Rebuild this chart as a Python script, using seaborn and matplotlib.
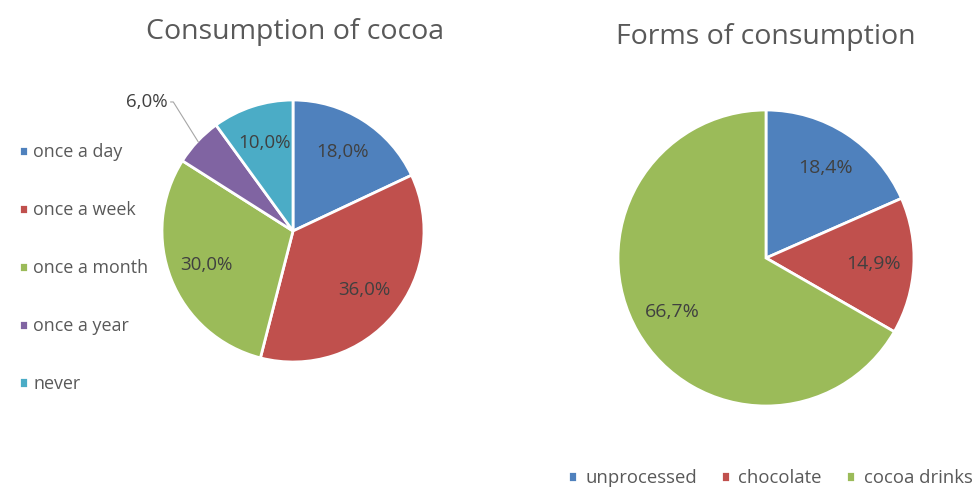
import numpy as np
import matplotlib
matplotlib.use("Agg")
import matplotlib.pyplot as plt
import seaborn as sns

# Data
freq_labels = ["once a day", "once a week", "once a month", "once a year", "never"]
freq_values = [18.0, 36.0, 30.0, 6.0, 10.0]
form_labels = ["unprocessed", "chocolate", "cocoa drinks"]
form_values = [18.4, 14.9, 66.7]
title_left = "Consumption of cocoa"
title_right = "Forms of consumption"

sns.set_theme(style="white")
plt.rcParams['font.family'] = ['Open Sans', 'DejaVu Sans']

pal_left = sns.color_palette(["#4F81BD", "#C0504D", "#9BBB59", "#8064A2", "#4BACC6"])
pal_right = sns.color_palette(["#4F81BD", "#C0504D", "#9BBB59"])

W, H = 978, 490
fig = plt.figure(figsize=(W / 100, H / 100), dpi=100)
fig.patch.set_facecolor("white")

def fmt(p):
    return f"{p:.1f}".replace(".", ",") + "%"

txt_col = "#404040"
leg_col = "#595959"

# Left pie
cx, cy, r = 293, 231, 131
axL = fig.add_axes([(cx - r) / W, 1 - (cy + r) / H, 2 * r / W, 2 * r / H])
wedges, texts, autotexts = axL.pie(
    freq_values, colors=pal_left, startangle=90, counterclock=False,
    autopct=lambda p: "" if p < 7 else fmt(p), pctdistance=0.71,
    wedgeprops=dict(edgecolor="white", linewidth=2),
    textprops=dict(color=txt_col, fontsize=13.5))
axL.set_xlim(-1, 1); axL.set_ylim(-1, 1); axL.set_aspect("equal")
# outside label for small slice
i = 3
w = wedges[i]
ang = np.deg2rad((w.theta1 + w.theta2) / 2)
ex, ey = np.cos(ang), np.sin(ang)
axL.annotate(fmt(freq_values[i]), xy=(ex * 0.99, ey * 0.99), xytext=(-0.96, 0.985),
             ha="right", va="center", color=txt_col, fontsize=13.5,
             arrowprops=dict(arrowstyle="-", color="#A6A6A6", lw=0.8,
                             shrinkA=0, shrinkB=0,
                             connectionstyle="angle,angleA=0,angleB=122,rad=0"),
             annotation_clip=False)
fig.text(295 / W, 1 - 32 / H, title_left, ha="center", va="center",
         fontsize=20.5, color=leg_col)
legL = fig.legend(wedges, freq_labels, loc="upper left",
                  bbox_to_anchor=(3 / W, 1 - 127 / H), frameon=False,
                  fontsize=12.9, labelcolor=leg_col, handlelength=0.5,
                  handleheight=0.5, handletextpad=0.3, labelspacing=2.23)

# Right pie
cx, cy, r = 766, 258, 148
axR = fig.add_axes([(cx - r) / W, 1 - (cy + r) / H, 2 * r / W, 2 * r / H])
wR, tR, aR = axR.pie(
    form_values, colors=pal_right, startangle=90, counterclock=False,
    autopct=fmt, pctdistance=0.73,
    wedgeprops=dict(edgecolor="white", linewidth=2),
    textprops=dict(color=txt_col, fontsize=14))
axR.set_xlim(-1, 1); axR.set_ylim(-1, 1); axR.set_aspect("equal")
fig.text(766 / W, 1 - 37 / H, title_right, ha="center", va="center",
         fontsize=20.5, color=leg_col)
fig.legend(wR, form_labels, loc="center", bbox_to_anchor=(770 / W, 1 - 478 / H),
           ncol=3, frameon=False, fontsize=13.3, labelcolor=leg_col,
           handlelength=0.5, handleheight=0.5, handletextpad=0.45,
           columnspacing=1.3)

fig.savefig("out.png", dpi=100, facecolor="white")
